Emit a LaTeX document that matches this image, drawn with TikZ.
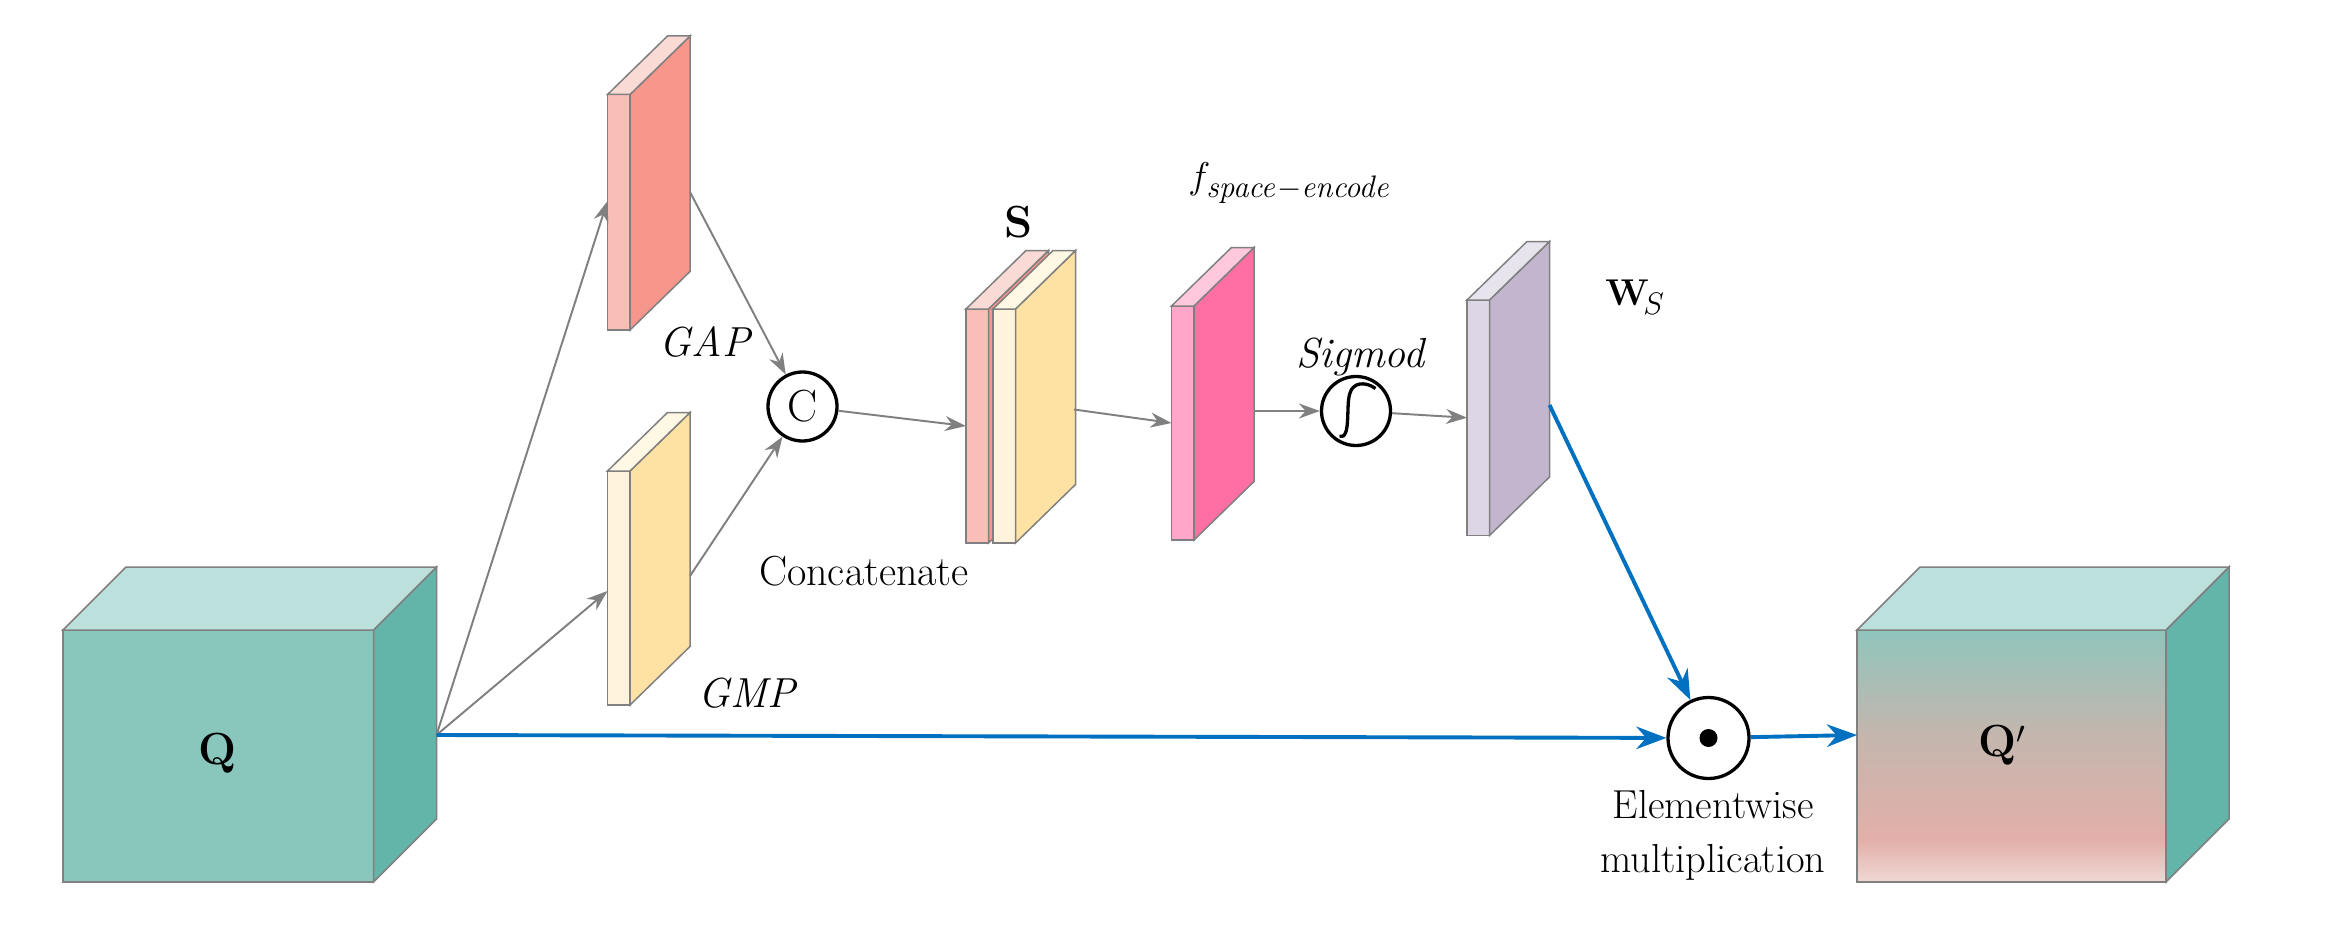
\documentclass[tikz,border=0pt]{standalone}
\usetikzlibrary{arrows.meta}
\begin{document}
\definecolor{qf}{HTML}{89C6BC}\definecolor{qs}{HTML}{63B5A9}\definecolor{qt}{HTML}{BCE0DC}
\definecolor{edge}{HTML}{808080}\definecolor{blu}{HTML}{0070C0}
\newcommand{\myslab}[7]{%
 \fill[#5,draw=edge,line width=1pt] (#2,#3) rectangle (#2+15,#4);
 \fill[#6,draw=edge,line width=1pt] (#2+15,#3)--(#2+55,#3-39)--(#2+55,#4-39)--(#2+15,#4)--cycle;
 \fill[#7,draw=edge,line width=1pt] (#2,#3)--(#2+40,#3-39)--(#2+55,#3-39)--(#2+15,#3)--cycle;
 \coordinate (#1f) at (#2,{(#3+#4)/2});}
\begin{tikzpicture}[x=1pt,y=-1pt,
  txt/.style={font=\fontsize{28}{32}\selectfont,inner sep=0pt},
  ga/.style={draw=edge,line width=1.3pt,-{Stealth[length=14pt,width=10pt]}},
  ba/.style={draw=blu,line width=2.6pt,-{Stealth[length=20pt,width=15pt]}},
  circ/.style={circle,draw=black,line width=2.2pt,minimum size=46pt,inner sep=0pt}]
\useasboundingbox (0,0) rectangle (1550,618);
% Q cube
\fill[qf,draw=edge,line width=1pt] (42,420) rectangle (249,588);
\fill[qs,draw=edge,line width=1pt] (249,420)--(291,378)--(291,546)--(249,588)--cycle;
\fill[qt,draw=edge,line width=1pt] (42,420)--(84,378)--(291,378)--(249,420)--cycle;
\node[txt,font=\fontsize{30}{32}\selectfont\bfseries] (q) at (145,502) {Q};
\coordinate (qo) at (291,490);
% Q' cube
\definecolor{qg1}{HTML}{8FC5BC}\definecolor{qg2}{HTML}{C4B6AE}\definecolor{qg3}{HTML}{E3AFA9}\definecolor{qg4}{HTML}{F0D8D5}
\shade[top color=qg1, bottom color=qg3, middle color=qg2] (1238,420) rectangle (1444,560);
\shade[top color=qg3, bottom color=qg4] (1238,560) rectangle (1444,588);
\draw[edge,line width=1pt] (1238,420) rectangle (1444,588);
\fill[qs,draw=edge,line width=1pt] (1444,420)--(1486,378)--(1486,546)--(1444,588)--cycle;
\fill[qt,draw=edge,line width=1pt] (1238,420)--(1280,378)--(1486,378)--(1444,420)--cycle;
\node[txt,font=\fontsize{30}{32}\selectfont\bfseries] (qp) at (1335,497) {Q$'$};
\coordinate (qpf) at (1238,490);
% slabs
\definecolor{gapf}{HTML}{F9BFB6}\definecolor{gaps}{HTML}{F7968A}\definecolor{gapt}{HTML}{FADAD5}
\definecolor{gmpf}{HTML}{FFF3DC}\definecolor{gmps}{HTML}{FDE2A3}\definecolor{gmpt}{HTML}{FFF8E4}
\definecolor{ff}{HTML}{FFA6C9}\definecolor{fs}{HTML}{FF6FA3}\definecolor{ft}{HTML}{FFC8DC}
\definecolor{wf}{HTML}{DCD6E6}\definecolor{ws}{HTML}{C2B6CF}\definecolor{wt}{HTML}{E8E4EE}
\myslab{gap}{405}{63}{220}{gapf}{gaps}{gapt}
\myslab{gmp}{405}{314}{470}{gmpf}{gmps}{gmpt}
\myslab{sa}{644}{206}{362}{gapf}{gaps}{gapt}
\myslab{sb}{662}{206}{362}{gmpf}{gmps}{gmpt}
\myslab{fe}{781}{204}{360}{ff}{fs}{ft}
\myslab{w}{978}{200}{357}{wf}{ws}{wt}
\coordinate (gapr) at (460,128); \coordinate (gmpr) at (460,384);
\coordinate (sbr) at (716,273); \coordinate (fer) at (836,274); \coordinate (wr) at (1033,270);
\coordinate (gapin) at (405,134); \coordinate (gmpin) at (405,394);
% operators
\node[circ] (c) at (535,271) {\fontsize{30}{32}\selectfont C};
\node[circ] (sg) at (904,274) {};
\draw[line width=2.2pt] (893,291) .. controls (901,293) and (897,270) .. (900,262) .. controls (902,255) and (910,254) .. (917,259);
\node[circle,draw=black,line width=2.2pt,minimum width=52pt,minimum height=54pt,inner sep=0pt] (od) at (1139,492) {};
\fill (od) circle (6pt);
% labels
\node[txt,font=\fontsize{28}{32}\selectfont\itshape] at (470,228) {GAP};
\node[txt,font=\fontsize{28}{32}\selectfont\itshape] at (498,462) {GMP};
\node[txt] at (576,381) {Concatenate};
\node[txt,font=\fontsize{30}{32}\selectfont\bfseries] at (679,148) {S};
\node[txt] at (860,122) {$f_{\mathit{space-encode}}$};
\node[txt,font=\fontsize{28}{32}\selectfont\itshape] at (907,238) {Sigmod};
\node[txt] at (1090,198) {$\mathbf{W}_{\!S}$};
\node[txt,align=center,font=\fontsize{27}{36}\selectfont] at (1142,557) {Elementwise\\multiplication};
% connectors
\draw[ga] (qo) -- (gapin);
\draw[ga] (qo) -- (gmpin);
\draw[ga] (gapr) -- (c);
\draw[ga] (gmpr) -- (c);
\draw[ga] (c) -- (saf);
\draw[ga] (sbr) -- (fef);
\draw[ga] (fer) -- (sg);
\draw[ga] (sg) -- (wf);
\draw[ba] (wr) -- (od);
\draw[ba] (qo) -- (od);
\draw[ba] (od) -- (qpf);
\end{tikzpicture}
\end{document}
